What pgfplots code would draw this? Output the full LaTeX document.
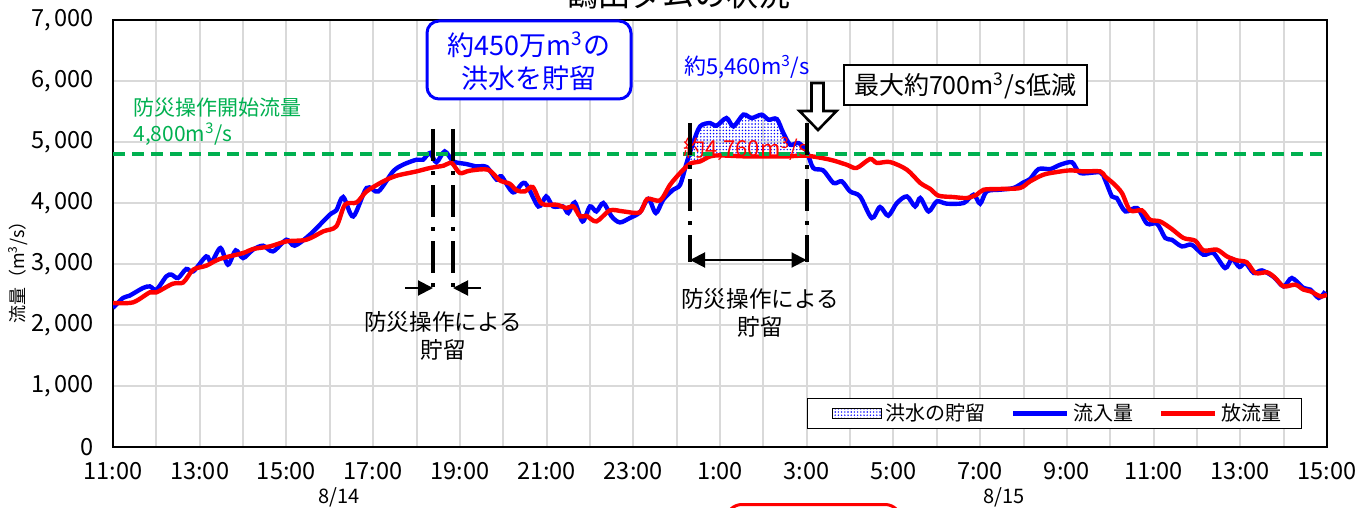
\documentclass[border=0pt]{standalone}
\usepackage{fontspec}
\setmainfont{Noto Sans CJK JP}
\usepackage{pgfplots}
\usepackage{pgfplotstable}
\pgfplotsset{compat=1.18}
\usepgfplotslibrary{fillbetween}
\usetikzlibrary{patterns.meta,arrows.meta}
\definecolor{gridgray}{RGB}{217,217,217}
\definecolor{dgreen}{RGB}{0,176,80}
\definecolor{inblue}{RGB}{0,0,255}
\definecolor{outred}{RGB}{255,0,0}

% inflow (hours after 8/14 11:00, m3/s)
\pgfplotstableread{
t q
0.00 2280
0.23 2443
0.38 2480
0.69 2606
0.85 2633
1.00 2579
1.23 2797
1.35 2825
1.50 2770
1.69 2918
1.85 2879
2.15 3125
2.27 3027
2.48 3262
2.65 2989
2.83 3223
3.00 3098
3.23 3235
3.46 3300
3.69 3207
4.00 3398
4.19 3300
4.54 3480
5.00 3808
5.15 3879
5.31 4098
5.54 3780
5.85 4246
6.12 4190
6.46 4518
6.69 4628
7.00 4710
7.15 4710
7.31 4820
7.46 4666
7.65 4846
7.85 4682
8.15 4639
8.38 4600
8.62 4590
8.85 4382
8.96 4436
9.23 4174
9.50 4328
9.81 3944
9.99 4108
10.15 3944
10.38 3944
10.50 3836
10.65 4010
10.83 3698
11.00 3944
11.15 3862
11.31 4000
11.50 3780
11.69 3682
11.92 3754
12.15 3846
12.35 4066
12.52 3836
12.69 4054
12.92 4218
13.08 4300
13.23 4656
13.38 4984
13.54 5256
13.77 5311
13.92 5267
14.15 5393
14.31 5256
14.54 5448
14.73 5393
14.96 5448
15.12 5366
15.31 5377
15.46 5148
15.62 4956
15.81 4984
16.00 4846
16.15 4574
16.38 4535
16.62 4328
16.81 4354
17.00 4190
17.23 4108
17.50 3754
17.69 3934
17.88 3792
18.08 4000
18.31 4108
18.50 3944
18.62 4082
18.81 3862
19.00 4026
19.23 3989
19.62 4000
19.85 4136
20.00 3989
20.15 4190
20.46 4218
20.77 4246
21.00 4338
21.15 4393
21.35 4557
21.62 4557
21.85 4628
22.12 4666
22.31 4492
22.77 4502
22.88 4382
23.04 4108
23.15 4082
23.35 3862
23.62 3918
23.85 3661
24.08 3661
24.27 3426
24.42 3398
24.65 3289
24.88 3316
25.15 3152
25.38 3180
25.65 2934
25.81 3082
25.98 2951
26.12 3016
26.31 2852
26.50 2895
26.77 2787
27.00 2633
27.19 2770
27.46 2606
27.62 2579
27.81 2443
27.96 2551
}\inflow

% outflow
\pgfplotstableread{
t q
0.00 2361
0.46 2371
0.85 2535
1.00 2535
1.38 2677
1.62 2698
1.85 2907
2.15 2972
2.46 3082
3.00 3180
3.23 3246
3.62 3289
4.00 3371
4.46 3398
4.85 3535
5.15 3617
5.35 3972
5.62 4010
5.85 4190
6.23 4354
6.54 4447
7.00 4518
7.31 4574
7.62 4611
7.81 4656
8.00 4492
8.23 4530
8.65 4546
8.92 4371
9.15 4316
9.31 4207
9.50 4190
9.68 4262
9.89 3989
10.23 3972
10.46 3918
10.62 3944
10.77 3780
10.92 3790
11.15 3698
11.46 3879
11.77 3862
12.15 3846
12.32 4066
12.62 4043
12.85 4300
13.08 4492
13.31 4644
13.54 4682
13.77 4764
14.00 4780
14.62 4764
15.50 4764
16.00 4775
16.54 4710
16.92 4628
17.15 4574
17.46 4721
17.62 4656
17.92 4672
18.31 4546
18.62 4328
18.85 4230
19.04 4120
19.38 4098
19.69 4082
19.92 4136
20.08 4218
20.46 4230
20.92 4246
21.15 4354
21.46 4464
21.77 4508
22.08 4535
22.38 4518
22.77 4518
22.88 4436
23.08 4316
23.27 4164
23.46 3879
23.73 3879
23.92 3726
24.15 3698
24.42 3574
24.69 3426
24.96 3382
25.15 3223
25.46 3235
25.69 3125
25.92 3060
26.15 3027
26.35 2852
26.62 2863
26.81 2770
27.00 2633
27.27 2661
27.46 2579
27.62 2551
27.85 2469
28.00 2497
}\outflow

\begin{document}
\begin{tikzpicture}
\begin{axis}[
  at={(56.5pt,-223.5pt)}, anchor=south west,
  scale only axis, width=607pt, height=213.5pt,
  set layers,
  xmin=0, xmax=28, ymin=0, ymax=7000,
  xtick={0,2,...,28},
  xticklabels={11:00,13:00,15:00,17:00,19:00,21:00,23:00,1:00,3:00,5:00,7:00,9:00,11:00,13:00,15:00},
  minor xtick={1,3,...,27},
  ytick={0,1000,...,7000},
  yticklabels={0,{1,\,000},{2,\,000},{3,\,000},{4,\,000},{5,\,000},{6,\,000},{7,\,000}},
  grid=both,
  major grid style={gridgray, line width=1pt},
  minor grid style={gridgray, line width=1pt},
  major tick length=0pt, minor tick length=0pt,
  axis line style={black, line width=1.2pt},
  tick label style={font=\fontsize{11.8}{13}\selectfont},
  yticklabel style={xshift=-6pt},
  xticklabel style={yshift=-4pt},
  legend cell align=left,
  legend style={at={(0.9794,0.0422)}, anchor=south east, draw=black, line width=0.6pt,
    font=\fontsize{10}{12}\selectfont, legend columns=3, inner xsep=8pt, inner ysep=0.5pt,
    /tikz/every odd column/.append style={column sep=0pt},
    /tikz/every even column/.append style={column sep=10.7pt}},
]
\addlegendimage{legend image code/.code={\path (0pt,0pt); \fill[pattern={Dots[distance=1.6pt,radius=0.4pt]}, pattern color=inblue] (4pt,-2.6pt) rectangle (28.5pt,2.6pt);}}
\addlegendentry{洪水の貯留}
\addplot[inblue, line width=2.2pt, smooth, name path=in,
  legend image code/.code={\draw[inblue, line width=2.2pt] (0pt,0pt) -- (27pt,0pt);}] table {\inflow};
\addlegendentry{流入量}
\addplot[outred, line width=2.2pt, smooth, name path=out,
  legend image code/.code={\draw[outred, line width=2.2pt] (0pt,0pt) -- (27pt,0pt);}] table {\outflow};
\addlegendentry{放流量}
\addplot[pattern={Dots[distance=1.6pt,radius=0.4pt]}, pattern color=inblue, draw=none, forget plot]
  fill between[of=in and out, soft clip={domain=13.31:16.0}];
\addplot[dgreen, line width=2pt, dash pattern=on 6pt off 3.5pt, forget plot] coordinates {(0,4800) (28,4800)};
\end{axis}
\begin{scope}[x=0.5pt,y=-0.5pt, every node/.style={inner sep=0pt}]
% title (cut off at the top, as in the reference)
\node[font=\fontsize{16}{18}\selectfont] at (678,-6) {鶴田ダムの状況};
% threshold text
\node[anchor=west, text=dgreen, font=\fontsize{10.5}{12}\selectfont] at (133,108) {防災操作開始流量};
\node[anchor=west, text=dgreen, font=\fontsize{10.5}{12}\selectfont] at (133,134) {4,800m\textsuperscript{3}/s};
% blue box
\draw[inblue, line width=1.5pt, rounded corners=6pt, fill=white] (427,21) rectangle (631,99);
\node[text=inblue, font=\fontsize{13.5}{15}\selectfont] at (529,45) {約450万m\textsuperscript{3}の};
\node[text=inblue, font=\fontsize{13.5}{15}\selectfont] at (529,78) {洪水を貯留};
% peak labels
\node[text=inblue, font=\fontsize{11}{12}\selectfont] at (747,67) {約5,460m\textsuperscript{3}/s};
\node[text=outred, font=\fontsize{11}{12}\selectfont] at (746,149) {約4,760m\textsuperscript{3}/s};
% reduction box
\draw[black, line width=1pt, fill=white] (844,65) rectangle (1087,105);
\node[font=\fontsize{12.5}{14}\selectfont] at (965,86) {最大約700m\textsuperscript{3}/s低減};
% hollow arrow
\draw[black, line width=1.3pt, fill=white, line join=miter] (811.5,83) -- (823.5,83) -- (823.5,111) -- (836.5,111) -- (818,130) -- (799.5,111) -- (811.5,111) -- cycle;
% dash-dot lines
\tikzset{dd/.style={black, line width=2pt, dash pattern=on 16pt off 5pt on 2pt off 5pt}}
\draw[dd] (433,129) -- (433,292);
\draw[dd] (453,129) -- (453,292);
\draw[dd] (690,123) -- (690,262);
\draw[dd] (806.5,123) -- (806.5,262);
\draw[-{Triangle[length=7.5pt,width=7.5pt]}, line width=1pt] (405,288) -- (433,288);
\draw[-{Triangle[length=7.5pt,width=7.5pt]}, line width=1pt] (481,288) -- (453,288);
\draw[{Triangle[length=7.5pt,width=7.5pt]}-{Triangle[length=7.5pt,width=7.5pt]}, line width=1pt] (690,260) -- (806.5,260);
\node[font=\fontsize{11.3}{13}\selectfont] at (443,322) {防災操作による};
\node[font=\fontsize{11.3}{13}\selectfont] at (443,350) {貯留};
\node[font=\fontsize{11.3}{13}\selectfont] at (760,299) {防災操作による};
\node[font=\fontsize{11.3}{13}\selectfont] at (760,327) {貯留};
% y label
\node[rotate=90, font=\fontsize{9}{10}\selectfont] at (18,268) {流量（m\textsuperscript{3}/s）};
% dates
\node[font=\fontsize{10}{11}\selectfont] at (339,497) {8/14};
\node[font=\fontsize{10}{11}\selectfont] at (1004,497) {8/15};
% red box cut at the bottom
\draw[outred, line width=1.5pt, rounded corners=8pt] (726,504.5) rectangle (901,560);
\end{scope}
\pgfresetboundingbox
\begin{scope}[x=0.5pt,y=-0.5pt]
\useasboundingbox (0,0) rectangle (1360,508);
\end{scope}
\end{tikzpicture}
\end{document}
